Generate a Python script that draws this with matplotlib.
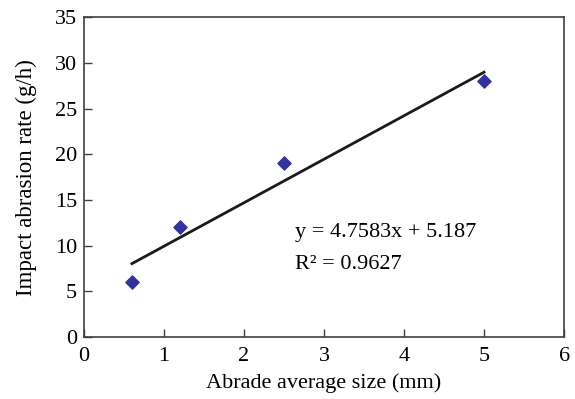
import matplotlib.pyplot as plt

plt.rcParams['font.family'] = ['Liberation Serif', 'DejaVu Serif']

size_mm = [0.6, 1.2, 2.5, 5.0]
abrasion_rate = [6, 12, 19, 28]
slope = 4.7583
intercept = 5.187

fig = plt.figure(figsize=(5.75, 3.99), dpi=100)
ax = fig.add_axes([0.146, 0.155, 0.835, 0.802])

fit_x = [min(size_mm), max(size_mm)]
fit_y = [slope * v + intercept for v in fit_x]
ax.plot(fit_x, fit_y, color='#1a1a1a', lw=2, zorder=2)
ax.scatter(size_mm, abrasion_rate, marker='D', s=45, color='#333399', zorder=3)

ax.text(2.64, 11.4, 'y = 4.7583x + 5.187', fontsize=16, va='center')
ax.text(2.64, 8.0, 'R² = 0.9627', fontsize=16, va='center')

ax.set_xlim(0, 6)
ax.set_ylim(0, 35)
ax.set_xticks(range(0, 7))
ax.set_yticks(range(0, 36, 5))
ax.tick_params(direction='in', labelsize=16, color='#404040', length=6, width=1)
ax.tick_params(axis='x', pad=7)
ax.tick_params(axis='y', pad=5)
for sp in ax.spines.values():
    sp.set_color('#404040')
    sp.set_linewidth(1.2)
ax.set_xlabel('Abrade average size (mm)', fontsize=16, labelpad=5)
ax.set_ylabel('Impact abrasion rate (g/h)', fontsize=16.5, labelpad=13)

fig.savefig('out.png', dpi=100)
